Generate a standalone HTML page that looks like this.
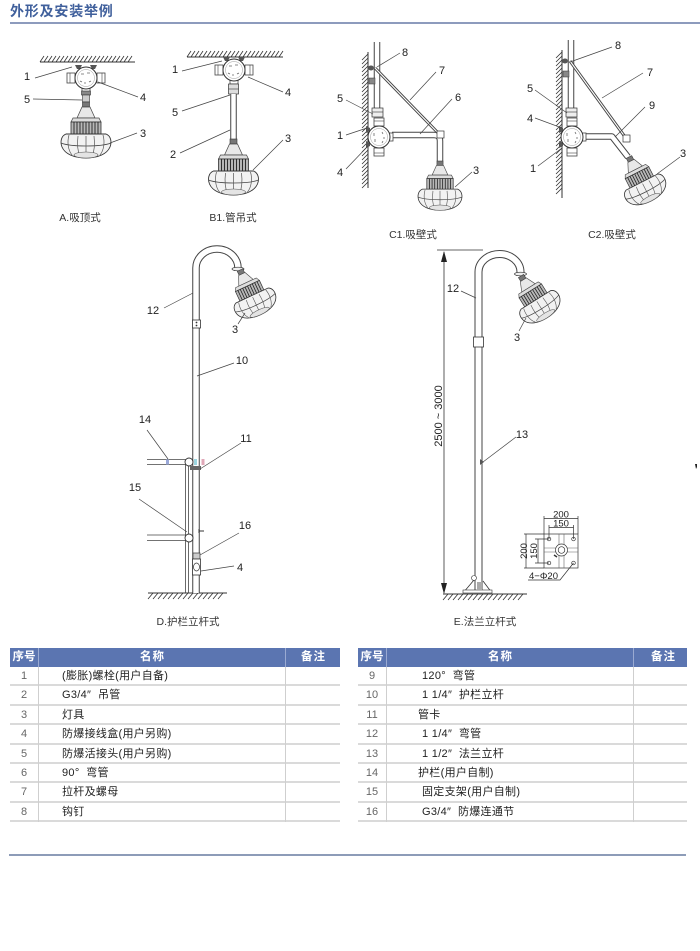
<!DOCTYPE html>
<html><head><meta charset="utf-8">
<style>
html,body{margin:0;padding:0;background:#fff;}
body{width:700px;height:951px;position:relative;overflow:hidden;font-family:"Liberation Sans","Noto Sans CJK SC",sans-serif;}
.title{position:absolute;left:10px;top:3px;font-size:14px;font-weight:bold;letter-spacing:0.8px;color:#40609c;line-height:17px;white-space:nowrap;}
.uline{position:absolute;left:10px;top:22px;width:690px;height:2px;background:#8d9bbd;}
.bline{position:absolute;left:9px;top:854px;width:677px;height:2px;background:#8d9cb8;}
.t{position:absolute;top:648px;height:175px;}
.h{position:absolute;left:0;top:0;width:100%;height:19px;background:#5b75b1;}
.h span{position:absolute;top:0;line-height:19px;color:#fff;font-size:11.5px;font-weight:bold;letter-spacing:1px;white-space:nowrap;}
.hv{position:absolute;top:0;width:1px;height:19px;background:#9aaad2;}
.r{position:absolute;left:0;width:100%;height:19.4px;border-bottom:2px solid #dadada;box-sizing:border-box;}
.r .n{position:absolute;left:0;width:28px;text-align:center;top:0;line-height:18px;font-size:11px;color:#666;}
.r .m{position:absolute;top:0;line-height:18px;font-size:11px;color:#222;letter-spacing:0.3px;white-space:nowrap;}
.v{position:absolute;top:19px;width:1px;height:155px;background:#cfcfcf;}
svg text{font-family:"Liberation Sans","Noto Sans CJK SC",sans-serif;}
</style></head>
<body>
<div class="title">外形及安装举例</div>
<div class="uline"></div>

<svg width="700" height="640" viewBox="0 0 700 640" style="position:absolute;left:0;top:0">
<defs>
 <g id="lamp">
  <rect x="-3.5" y="0" width="7" height="5" fill="#777" stroke="#333" stroke-width="0.6"/>
  <path d="M-4,5 L4,5 L9,16 L-9,16 Z" fill="#e8e8e8" stroke="#444" stroke-width="0.7"/>
  <path d="M-13,16 L13,16 L15,20 L-15,20 Z" fill="#ddd" stroke="#444" stroke-width="0.7"/>
  <rect x="-15" y="20" width="30" height="15" fill="#b8b8b8" stroke="#333" stroke-width="0.8"/>
  <path d="M-12,20V35M-9,20V35M-6,20V35M-3,20V35M0,20V35M3,20V35M6,20V35M9,20V35M12,20V35" stroke="#222" stroke-width="0.9"/>
  <path d="M-20,32 C-25,34 -26,40 -24,45 C-21,52 -12,56 0,56 C12,56 21,52 24,45 C26,40 25,34 20,32 Z" fill="#f2f2f2" stroke="#333" stroke-width="0.9"/>
  <path d="M-25,41 C-15,45 15,45 25,41" fill="none" stroke="#444" stroke-width="0.8"/>
  <path d="M-17,33 C-19,40 -18,48 -14,53 M-8,34 C-9,42 -8,50 -6,55 M0,34 V56 M8,34 C9,42 8,50 6,55 M17,33 C19,40 18,48 14,53" stroke="#555" stroke-width="0.7" fill="none"/>
  <ellipse cx="0" cy="53" rx="12" ry="3" fill="#e4e4e4" stroke="#555" stroke-width="0.6"/>
 </g>
 <g id="jbox">
  <rect x="-19" y="-5" width="8" height="10" fill="#fff" stroke="#444" stroke-width="0.8"/>
  <line x1="-16" y1="-5" x2="-16" y2="5" stroke="#444" stroke-width="0.6"/>
  <rect x="11" y="-5" width="8" height="10" fill="#fff" stroke="#444" stroke-width="0.8"/>
  <line x1="16" y1="-5" x2="16" y2="5" stroke="#444" stroke-width="0.6"/>
  <path d="M-11,-13 L-4,-13 L-6,-9 L-9,-9 Z" fill="#555"/>
  <path d="M4,-13 L11,-13 L9,-9 L6,-9 Z" fill="#555"/>
  <rect x="-4" y="9" width="8" height="5" fill="#fff" stroke="#444" stroke-width="0.8"/>
  <circle r="11" fill="#fff" stroke="#333" stroke-width="1"/>
  <circle r="8.5" fill="none" stroke="#999" stroke-width="0.5"/>
  <path d="M-5,-4 h3 M1,-5 h3 M-6,3 l2,1 M-2,5 h2 M3,4 l2,-1" stroke="#666" stroke-width="0.8"/>
 </g>
</defs>

<g fill="none" stroke="#333" stroke-width="0.8">
 <!-- ceilings -->
 <line x1="40" y1="62" x2="135" y2="62" stroke-width="1"/>
 <path d="M40,62 l4,-6 m0,6 l4,-6 m0,6 l4,-6 m0,6 l4,-6 m0,6 l4,-6 m0,6 l4,-6 m0,6 l4,-6 m0,6 l4,-6 m0,6 l4,-6 m0,6 l4,-6 m0,6 l4,-6 m0,6 l4,-6 m0,6 l4,-6 m0,6 l4,-6 m0,6 l4,-6 m0,6 l4,-6 m0,6 l4,-6 m0,6 l4,-6 m0,6 l4,-6 m0,6 l4,-6 m0,6 l4,-6 m0,6 l4,-6 m0,6 l4,-6 m0,6"/>
 <line x1="187" y1="57" x2="283" y2="57" stroke-width="1"/>
 <path d="M187,57 l4,-6 m0,6 l4,-6 m0,6 l4,-6 m0,6 l4,-6 m0,6 l4,-6 m0,6 l4,-6 m0,6 l4,-6 m0,6 l4,-6 m0,6 l4,-6 m0,6 l4,-6 m0,6 l4,-6 m0,6 l4,-6 m0,6 l4,-6 m0,6 l4,-6 m0,6 l4,-6 m0,6 l4,-6 m0,6 l4,-6 m0,6 l4,-6 m0,6 l4,-6 m0,6 l4,-6 m0,6 l4,-6 m0,6 l4,-6 m0,6 l4,-6 m0,6 l4,-6 m0,6"/>
 <!-- walls -->
 <line x1="368" y1="52" x2="368" y2="188" stroke-width="1"/>
 <path d="M368,54 l-6,6 m6,-2 l-6,6 m6,-2 l-6,6 m6,-2 l-6,6 m6,-2 l-6,6 m6,-2 l-6,6 m6,-2 l-6,6 m6,-2 l-6,6 m6,-2 l-6,6 m6,-2 l-6,6 m6,-2 l-6,6 m6,-2 l-6,6 m6,-2 l-6,6 m6,-2 l-6,6 m6,-2 l-6,6 m6,-2 l-6,6 m6,-2 l-6,6 m6,-2 l-6,6 m6,-2 l-6,6 m6,-2 l-6,6 m6,-2 l-6,6 m6,-2 l-6,6 m6,-2 l-6,6 m6,-2 l-6,6 m6,-2 l-6,6 m6,-2 l-6,6 m6,-2 l-6,6 m6,-2 l-6,6 m6,-2 l-6,6 m6,-2 l-6,6 m6,-2 l-6,6 m6,-2 l-6,6 m6,-2 l-6,6 m6,-2"/>
 <line x1="562" y1="50" x2="562" y2="198" stroke-width="1"/>
 <path d="M562,52 l-6,6 m6,-2 l-6,6 m6,-2 l-6,6 m6,-2 l-6,6 m6,-2 l-6,6 m6,-2 l-6,6 m6,-2 l-6,6 m6,-2 l-6,6 m6,-2 l-6,6 m6,-2 l-6,6 m6,-2 l-6,6 m6,-2 l-6,6 m6,-2 l-6,6 m6,-2 l-6,6 m6,-2 l-6,6 m6,-2 l-6,6 m6,-2 l-6,6 m6,-2 l-6,6 m6,-2 l-6,6 m6,-2 l-6,6 m6,-2 l-6,6 m6,-2 l-6,6 m6,-2 l-6,6 m6,-2 l-6,6 m6,-2 l-6,6 m6,-2 l-6,6 m6,-2 l-6,6 m6,-2 l-6,6 m6,-2 l-6,6 m6,-2 l-6,6 m6,-2 l-6,6 m6,-2 l-6,6 m6,-2 l-6,6 m6,-2 l-6,6 m6,-2 l-6,6 m6,-2"/>
 <!-- grounds -->
 <line x1="148" y1="593" x2="227" y2="593" stroke-width="1"/>
 <path d="M148,599 l5,-6 m0,6 l5,-6 m0,6 l5,-6 m0,6 l5,-6 m0,6 l5,-6 m0,6 l5,-6 m0,6 l5,-6 m0,6 l5,-6 m0,6 l5,-6 m0,6 l5,-6 m0,6 l5,-6 m0,6 l5,-6 m0,6 l5,-6 m0,6 l5,-6 m0,6 l5,-6 m0,6"/>
 <line x1="443" y1="594" x2="527" y2="594" stroke-width="1"/>
 <path d="M443,600 l5,-6 m0,6 l5,-6 m0,6 l5,-6 m0,6 l5,-6 m0,6 l5,-6 m0,6 l5,-6 m0,6 l5,-6 m0,6 l5,-6 m0,6 l5,-6 m0,6 l5,-6 m0,6 l5,-6 m0,6 l5,-6 m0,6 l5,-6 m0,6 l5,-6 m0,6 l5,-6 m0,6 l5,-6 m0,6"/>
</g>

<!-- ===== A ===== -->
<use href="#jbox" transform="translate(86,78)"/>
<rect x="81.5" y="91" width="9" height="4" fill="#888" stroke="#333" stroke-width="0.6"/>
<rect x="82.5" y="95" width="7" height="7" fill="#ccc" stroke="#333" stroke-width="0.6"/>
<use href="#lamp" transform="translate(86,102)"/>

<!-- ===== B1 ===== -->
<use href="#jbox" transform="translate(234,70)"/>
<rect x="228.5" y="84" width="10" height="10" fill="#ddd" stroke="#333" stroke-width="0.7"/>
<line x1="228.5" y1="89" x2="238.5" y2="89" stroke="#333" stroke-width="0.6"/>
<path d="M233.5,94 L233.5,139" stroke="#444" stroke-width="6.5" fill="none"/>
<path d="M233.5,94 L233.5,139" stroke="#fff" stroke-width="4.5" fill="none"/>
<use href="#lamp" transform="translate(233.5,139)"/>

<!-- ===== C1 ===== -->
<path d="M377,42 L377,110" stroke="#444" stroke-width="6.5" fill="none"/>
<path d="M377,42 L377,110" stroke="#fff" stroke-width="4.5" fill="none"/>
<rect x="372" y="108" width="11" height="9" fill="#eee" stroke="#333" stroke-width="0.7"/>
<line x1="372" y1="112" x2="383" y2="112" stroke="#333" stroke-width="0.6"/>
<path d="M392,135 L434,135 Q440,135 440,141 L440,161" stroke="#444" stroke-width="6.5" fill="none"/>
<path d="M392,135 L434,135 Q440,135 440,141 L440,161" stroke="#fff" stroke-width="4.5" fill="none"/>
<use href="#jbox" transform="translate(379,137) rotate(-90)"/>
<line x1="375" y1="68" x2="442" y2="137" stroke="#444" stroke-width="3"/>
<line x1="375" y1="68" x2="442" y2="137" stroke="#fff" stroke-width="1.1"/>
<ellipse cx="371" cy="68" rx="3" ry="2.5" fill="#555"/>
<rect x="369" y="78" width="6" height="6" fill="#888" stroke="#333" stroke-width="0.5"/>
<rect x="437" y="131" width="7" height="7" fill="#fff" stroke="#333" stroke-width="0.7"/>
<use href="#lamp" transform="translate(440,161) scale(0.88)"/>

<!-- ===== C2 ===== -->
<path d="M571,40 L571,110" stroke="#444" stroke-width="6.5" fill="none"/>
<path d="M571,40 L571,110" stroke="#fff" stroke-width="4.5" fill="none"/>
<rect x="566" y="108" width="11" height="9" fill="#eee" stroke="#333" stroke-width="0.7"/>
<line x1="566" y1="112" x2="577" y2="112" stroke="#333" stroke-width="0.6"/>
<path d="M584,136.5 L612,136.5 L628,157" stroke="#444" stroke-width="6.5" fill="none" stroke-linejoin="round"/>
<path d="M584,136.5 L612,136.5 L628,157" stroke="#fff" stroke-width="4.5" fill="none" stroke-linejoin="round"/>
<use href="#jbox" transform="translate(572,137) rotate(-90)"/>
<line x1="570" y1="61" x2="628" y2="141" stroke="#444" stroke-width="3"/>
<line x1="570" y1="61" x2="628" y2="141" stroke="#fff" stroke-width="1.1"/>
<ellipse cx="565" cy="61" rx="3" ry="2.5" fill="#555"/>
<rect x="563" y="71" width="6" height="6" fill="#888" stroke="#333" stroke-width="0.5"/>
<rect x="623" y="135" width="7" height="7" fill="#fff" stroke="#333" stroke-width="0.7"/>
<use href="#lamp" transform="translate(629,157) rotate(-27) scale(0.88)"/>

<!-- ===== D ===== -->
<line x1="185.5" y1="462" x2="185.5" y2="593" stroke="#444" stroke-width="0.8"/>
<line x1="188.5" y1="462" x2="188.5" y2="593" stroke="#444" stroke-width="0.8"/>
<line x1="147" y1="459.5" x2="187" y2="459.5" stroke="#444" stroke-width="0.8"/>
<line x1="147" y1="464.5" x2="187" y2="464.5" stroke="#444" stroke-width="0.8"/>
<rect x="166" y="459.5" width="3" height="5" fill="#9aa8d8"/>
<line x1="147" y1="535" x2="187" y2="535" stroke="#444" stroke-width="0.8"/>
<line x1="147" y1="540.5" x2="187" y2="540.5" stroke="#444" stroke-width="0.8"/>
<path d="M196,593 L196,268 A21,19 0 0 1 238,268 L238,271" stroke="#444" stroke-width="7.5" fill="none"/>
<path d="M196,593 L196,268 A21,19 0 0 1 238,268 L238,271" stroke="#fff" stroke-width="5.5" fill="none"/>
<circle cx="189" cy="462" r="4" fill="#fff" stroke="#333" stroke-width="0.9"/>
<circle cx="189" cy="538" r="4" fill="#fff" stroke="#333" stroke-width="0.9"/>
<rect x="194" y="459" width="3" height="6" fill="#9cd6e0"/>
<rect x="201.5" y="459" width="3" height="6" fill="#e0a8b8"/>
<rect x="190" y="466" width="11" height="4" fill="#666"/>
<path d="M199,531 h5 M199,529 v4" stroke="#333" stroke-width="1"/>
<rect x="192.5" y="320" width="8" height="8" fill="#fff" stroke="#333" stroke-width="0.8"/>
<circle cx="196.5" cy="322.5" r="0.9" fill="#333"/><circle cx="196.5" cy="325.5" r="0.9" fill="#333"/>
<rect x="193" y="553" width="7" height="6" fill="#ccc" stroke="#333" stroke-width="0.7"/>
<rect x="192.5" y="559" width="8" height="16" fill="#fff" stroke="#333" stroke-width="0.8"/>
<ellipse cx="196.5" cy="567" rx="3" ry="4" fill="none" stroke="#333" stroke-width="0.7"/>
<ellipse cx="238" cy="269" rx="6" ry="1.8" fill="#eee" stroke="#333" stroke-width="0.7"/>
<use href="#lamp" transform="translate(240,270) rotate(-25) scale(0.88)"/>

<!-- ===== E ===== -->
<line x1="444" y1="252" x2="444" y2="593" stroke="#333" stroke-width="0.8"/>
<line x1="437" y1="250" x2="483" y2="250" stroke="#333" stroke-width="0.8"/>
<path d="M444,251 L441,262 L447,262 Z" fill="#222"/>
<path d="M444,594 L441,583 L447,583 Z" fill="#222"/>
<text transform="translate(442,416) rotate(-90)" text-anchor="middle" font-size="11" fill="#222">2500 ~ 3000</text>
<path d="M478.5,592 L478.5,272 A21,18 0 0 1 520.5,272 L520.5,276" stroke="#444" stroke-width="8" fill="none"/>
<path d="M478.5,592 L478.5,272 A21,18 0 0 1 520.5,272 L520.5,276" stroke="#fff" stroke-width="6" fill="none"/>
<rect x="473.5" y="337" width="10" height="10" fill="#fff" stroke="#333" stroke-width="0.8"/>
<path d="M463,593 L474,580 M492,593 L483,581" stroke="#333" stroke-width="0.8"/>
<rect x="463" y="590" width="29" height="3" fill="#fff" stroke="#333" stroke-width="0.6"/>
<rect x="477" y="582" width="5" height="8" fill="#aaa"/>
<circle cx="474" cy="578" r="2.5" fill="#fff" stroke="#333" stroke-width="0.6"/>
<path d="M480,459 L484,462 L480,465 Z" fill="#555"/>
<ellipse cx="520.5" cy="274" rx="6" ry="1.8" fill="#eee" stroke="#333" stroke-width="0.7"/>
<use href="#lamp" transform="translate(521,276) rotate(-32) scale(0.88)"/>

<!-- flange plan -->
<g stroke="#333" stroke-width="0.7" fill="none">
 <rect x="544" y="534" width="34" height="34"/>
 <path d="M559,534 V568 M564,534 V568 M544,548 H578 M544,552 H578" stroke="#666" stroke-width="0.6"/>
 <circle cx="549" cy="539" r="1.8"/><circle cx="573.5" cy="539" r="1.8"/>
 <circle cx="549" cy="563" r="1.8"/><circle cx="573.5" cy="563" r="1.8"/>
 <circle cx="561.5" cy="550" r="6" fill="#fff"/>
 <circle cx="561.5" cy="550" r="3.3"/>
 <path d="M554,555 l3,2" stroke-width="1.4"/>
 <!-- dims -->
 <path d="M544,534 V516 M578,534 V516 M544,518.5 H578"/>
 <path d="M549,539 V525 M573.5,539 V525 M549,527.5 H573.5"/>
 <path d="M544,534 H524 M544,568 H524 M526,534 V568"/>
 <path d="M549,539 H535 M549,563 H535 M538,539 V563"/>
 <path d="M528,580 H560 L573.5,563"/>
</g>
<text x="561" y="517.5" text-anchor="middle" font-size="9.5" fill="#222">200</text>
<text x="561" y="526.5" text-anchor="middle" font-size="9.5" fill="#222">150</text>
<text transform="translate(527,551) rotate(-90)" text-anchor="middle" font-size="9.5" fill="#222">200</text>
<text transform="translate(537,551) rotate(-90)" text-anchor="middle" font-size="9.5" fill="#222">150</text>
<text x="529" y="579" font-size="9.5" fill="#222">4−Φ20</text>

<!-- leaders -->
<g stroke="#444" stroke-width="0.7">
 <line x1="35" y1="78" x2="72" y2="67"/>
 <line x1="33" y1="99" x2="82" y2="100"/>
 <line x1="98" y1="82" x2="138" y2="97"/>
 <line x1="110" y1="143" x2="137" y2="133"/>
 <line x1="182" y1="71" x2="222" y2="61"/>
 <line x1="248" y1="77" x2="283" y2="92"/>
 <line x1="182" y1="111" x2="230" y2="95"/>
 <line x1="180" y1="153" x2="230" y2="130"/>
 <line x1="253" y1="170" x2="283" y2="140"/>
 <line x1="377" y1="67" x2="400" y2="53"/>
 <line x1="410" y1="100" x2="436" y2="72"/>
 <line x1="420" y1="134" x2="452" y2="99"/>
 <line x1="455" y1="187" x2="472" y2="172"/>
 <line x1="346" y1="100" x2="373" y2="114"/>
 <line x1="346" y1="135" x2="367" y2="128"/>
 <line x1="346" y1="169" x2="368" y2="146"/>
 <line x1="570" y1="62" x2="612" y2="47"/>
 <line x1="602" y1="98" x2="643" y2="73"/>
 <line x1="615" y1="137" x2="645" y2="107"/>
 <line x1="535" y1="90" x2="567" y2="113"/>
 <line x1="535" y1="118" x2="562" y2="128"/>
 <line x1="538" y1="166" x2="562" y2="148"/>
 <line x1="657" y1="174" x2="680" y2="157"/>
 <line x1="164" y1="308" x2="193" y2="293"/>
 <line x1="238" y1="324" x2="245" y2="313"/>
 <line x1="197" y1="376" x2="234" y2="363"/>
 <line x1="147" y1="430" x2="168" y2="459"/>
 <line x1="200" y1="469" x2="241" y2="443"/>
 <line x1="139" y1="499" x2="187" y2="532"/>
 <line x1="200" y1="555" x2="239" y2="533"/>
 <line x1="201" y1="571" x2="234" y2="566"/>
 <line x1="461" y1="291" x2="476" y2="298"/>
 <line x1="519" y1="331" x2="526" y2="318"/>
 <line x1="483" y1="462" x2="516" y2="437"/>
</g>

<!-- labels -->
<g font-size="11" fill="#222" text-anchor="middle">
 <text x="27" y="80">1</text><text x="27" y="103">5</text><text x="143" y="101">4</text><text x="143" y="137">3</text>
 <text x="175" y="73">1</text><text x="288" y="96">4</text><text x="175" y="116">5</text><text x="173" y="158">2</text><text x="288" y="142">3</text>
 <text x="405" y="56">8</text><text x="442" y="74">7</text><text x="458" y="101">6</text><text x="340" y="102">5</text><text x="340" y="139">1</text><text x="340" y="176">4</text><text x="476" y="174">3</text>
 <text x="618" y="49">8</text><text x="650" y="76">7</text><text x="652" y="109">9</text><text x="530" y="92">5</text><text x="530" y="122">4</text><text x="533" y="172">1</text><text x="683" y="157">3</text>
 <text x="153" y="314">12</text><text x="235" y="333">3</text><text x="242" y="364">10</text><text x="145" y="423">14</text><text x="246" y="442">11</text><text x="135" y="491">15</text><text x="245" y="529">16</text><text x="240" y="571">4</text>
 <text x="453" y="292">12</text><text x="517" y="341">3</text><text x="522" y="438">13</text>
</g>
<g font-size="10.5" fill="#333" text-anchor="middle">
 <text x="80" y="221">A.吸顶式</text>
 <text x="233" y="221">B1.管吊式</text>
 <text x="413" y="238">C1.吸壁式</text>
 <text x="612" y="238">C2.吸壁式</text>
 <text x="188" y="625">D.护栏立杆式</text>
 <text x="485" y="625">E.法兰立杆式</text>
</g>
<path d="M695,464 l2,0 l0,3 l-1,2 z" fill="#222"/>
</svg>

<!-- Table 1 -->
<div class="t" style="left:10px;width:330px">
 <div class="h">
  <span style="left:0;width:28px;text-align:center;letter-spacing:0">序号</span>
  <span style="left:130px">名称</span>
  <span style="left:291px">备注</span>
 </div>
 <div class="hv" style="left:28px"></div><div class="hv" style="left:275px"></div>
 <div class="r" style="top:19px"><span class="n">1</span><span class="m" style="left:52px">(膨胀)螺栓(用户自备)</span></div>
 <div class="r" style="top:38.4px"><span class="n">2</span><span class="m" style="left:52px">G3/4″&nbsp;&nbsp;吊管</span></div>
 <div class="r" style="top:57.8px"><span class="n">3</span><span class="m" style="left:52px">灯具</span></div>
 <div class="r" style="top:77.2px"><span class="n">4</span><span class="m" style="left:52px">防爆接线盒(用户另购)</span></div>
 <div class="r" style="top:96.6px"><span class="n">5</span><span class="m" style="left:52px">防爆活接头(用户另购)</span></div>
 <div class="r" style="top:116px"><span class="n">6</span><span class="m" style="left:52px">90°&nbsp;&nbsp;弯管</span></div>
 <div class="r" style="top:135.4px"><span class="n">7</span><span class="m" style="left:52px">拉杆及螺母</span></div>
 <div class="r" style="top:154.8px"><span class="n">8</span><span class="m" style="left:52px">钩钉</span></div>
 <div class="v" style="left:28px"></div><div class="v" style="left:275px"></div>
</div>

<!-- Table 2 -->
<div class="t" style="left:358px;width:329px">
 <div class="h">
  <span style="left:0;width:28px;text-align:center;letter-spacing:0">序号</span>
  <span style="left:130px">名称</span>
  <span style="left:293px">备注</span>
 </div>
 <div class="hv" style="left:28px"></div><div class="hv" style="left:275px"></div>
 <div class="r" style="top:19px"><span class="n">9</span><span class="m" style="left:64px">120°&nbsp;&nbsp;弯管</span></div>
 <div class="r" style="top:38.4px"><span class="n">10</span><span class="m" style="left:64px">1 1/4″&nbsp;&nbsp;护栏立杆</span></div>
 <div class="r" style="top:57.8px"><span class="n">11</span><span class="m" style="left:60px">管卡</span></div>
 <div class="r" style="top:77.2px"><span class="n">12</span><span class="m" style="left:64px">1 1/4″&nbsp;&nbsp;弯管</span></div>
 <div class="r" style="top:96.6px"><span class="n">13</span><span class="m" style="left:64px">1 1/2″&nbsp;&nbsp;法兰立杆</span></div>
 <div class="r" style="top:116px"><span class="n">14</span><span class="m" style="left:60px">护栏(用户自制)</span></div>
 <div class="r" style="top:135.4px"><span class="n">15</span><span class="m" style="left:64px">固定支架(用户自制)</span></div>
 <div class="r" style="top:154.8px"><span class="n">16</span><span class="m" style="left:64px">G3/4″&nbsp;&nbsp;防爆连通节</span></div>
 <div class="v" style="left:28px"></div><div class="v" style="left:275px"></div>
</div>

<div class="bline"></div>
</body></html>
